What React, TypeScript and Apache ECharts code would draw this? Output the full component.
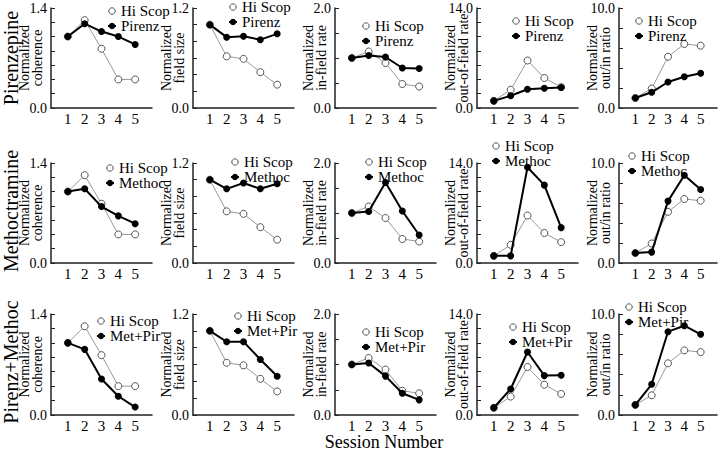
import React, { useEffect, useRef } from "react";
import * as echarts from "echarts";

const sessions = [1, 2, 3, 4, 5];
const sessionTicks = ["1", "2", "3", "4", "5"];

const rowLabels = ["Pirenzepine", "Methoctramine", "Pirenz+Methoc"];
const drugNames = ["Pirenz", "Methoc", "Met+Pir"];
const controlName = "Hi Scop";

const measureNames = [
  "Normalized\ncoherence",
  "Normalized\nfield size",
  "Normalized\nin-field rate",
  "Normalized\nout-of-field rate",
  "Normalized\nout/in ratio",
];
const measureMax = [1.4, 1.2, 2.0, 14.0, 10.0];
const measureInterval = [0.2, 0.2, 0.5, 2.0, 2.0];

// Hi Scop (control) values, same in every row
const hiScopCoherence = [1.0, 1.23, 0.83, 0.4, 0.4];
const hiScopFieldSize = [1.0, 0.62, 0.59, 0.43, 0.28];
const hiScopInField = [1.0, 1.13, 0.9, 0.48, 0.43];
const hiScopOutField = [1.0, 2.55, 6.65, 4.2, 2.92];
const hiScopOutIn = [1.0, 1.95, 5.12, 6.4, 6.23];

// Pirenzepine
const pirenzCoherence = [1.0, 1.18, 1.07, 1.0, 0.89];
const pirenzFieldSize = [1.0, 0.85, 0.86, 0.82, 0.89];
const pirenzInField = [1.0, 1.05, 1.02, 0.8, 0.79];
const pirenzOutField = [1.0, 1.71, 2.63, 2.77, 2.87];
const pirenzOutIn = [1.0, 1.57, 2.6, 3.13, 3.47];

// Methoctramine
const methocCoherence = [1.0, 1.04, 0.79, 0.66, 0.55];
const methocFieldSize = [1.0, 0.89, 0.96, 0.89, 0.95];
const methocInField = [1.0, 1.03, 1.61, 1.04, 0.56];
const methocOutField = [1.0, 1.0, 13.4, 10.9, 4.95];
const methocOutIn = [1.0, 1.09, 6.19, 8.77, 7.35];

// Met+Pir
const metPirCoherence = [1.0, 0.91, 0.5, 0.26, 0.11];
const metPirFieldSize = [1.0, 0.87, 0.87, 0.66, 0.46];
const metPirInField = [1.0, 1.03, 0.77, 0.43, 0.3];
const metPirOutField = [1.0, 3.6, 8.73, 5.46, 5.5];
const metPirOutIn = [1.0, 3.04, 8.25, 8.84, 7.99];

const hiScopRows = [hiScopCoherence, hiScopFieldSize, hiScopInField, hiScopOutField, hiScopOutIn];
const drugRows = [
  [pirenzCoherence, pirenzFieldSize, pirenzInField, pirenzOutField, pirenzOutIn],
  [methocCoherence, methocFieldSize, methocInField, methocOutField, methocOutIn],
  [metPirCoherence, metPirFieldSize, metPirInField, metPirOutField, metPirOutIn],
];

// layout
const colLeft = [51, 193, 335, 477, 619];
const gridWidth = 101;
const rowTop = [8, 163, 314];
const rowHeight = [100, 100, 101];
// legend marker centers [x, y] per row/col
const legendPos = [
  [[111, 10], [232, 6], [365, 25], [515, 20], [638, 20]],
  [[109, 167], [234, 161], [368, 161], [495, 145], [631, 155]],
  [[100, 320], [237, 315], [365, 331], [512, 326], [628, 306]],
];
const rowLabelY = [58, 211, 362];

const FONT = "'Liberation Serif', 'Times New Roman', serif";

export default function App() {
  const ref = useRef<HTMLDivElement>(null);
  useEffect(() => {
    if (!ref.current) return;
    const chart = echarts.init(ref.current, null, { renderer: "svg" });
    const grids: any[] = [];
    const xAxes: any[] = [];
    const yAxes: any[] = [];
    const series: any[] = [];
    const legends: any[] = [];
    for (let r = 0; r < 3; r++) {
      for (let c = 0; c < 5; c++) {
        const idx = r * 5 + c;
        grids.push({
          left: colLeft[c],
          top: rowTop[r],
          width: gridWidth,
          height: rowHeight[r],
          containLabel: false,
        });
        xAxes.push({
          type: "value",
          gridIndex: idx,
          min: 0,
          max: 6,
          interval: 1,
          axisLine: { show: true, lineStyle: { color: "#222", width: 1.5 } },
          axisTick: { show: false },
          splitLine: { show: false },
          axisLabel: {
            margin: 3,
            fontFamily: FONT,
            fontSize: 15,
            color: "#000",
            formatter: (v: number) => {
              const i = sessions.indexOf(v);
              return i >= 0 ? sessionTicks[i] : "";
            },
          },
        });
        const mx = measureMax[c];
        yAxes.push({
          type: "value",
          gridIndex: idx,
          min: 0,
          max: mx,
          interval: measureInterval[c],
          name: measureNames[c],
          nameLocation: "middle",
          nameRotate: 90,
          nameGap: 7,
          nameMoveOverlap: false,
          nameTextStyle: { fontFamily: FONT, fontSize: 14, lineHeight: 13, color: "#000" },
          axisLine: { show: true, lineStyle: { color: "#222", width: 1.5 } },
          axisTick: { show: true, inside: true, length: 4, lineStyle: { color: "#222" } },
          splitLine: { show: false },
          axisLabel: {
            margin: 4,
            fontFamily: FONT,
            fontSize: 14,
            color: "#000",
            showMinLabel: true,
            showMaxLabel: true,
            formatter: (v: number) =>
              Math.abs(v) < 1e-9 || Math.abs(v - mx) < 1e-6 ? v.toFixed(1) : "",
          },
        });
        series.push({
          type: "line",
          name: controlName,
          xAxisIndex: idx,
          yAxisIndex: idx,
          data: sessions.map((s, i) => [s, hiScopRows[c][i]]),
          symbol: "circle",
          symbolSize: 7,
          lineStyle: { color: "#999", width: 1 },
          itemStyle: { color: "#fff", borderColor: "#555", borderWidth: 1 },
          z: 2,
        });
        series.push({
          type: "line",
          name: drugNames[r],
          xAxisIndex: idx,
          yAxisIndex: idx,
          data: sessions.map((s, i) => [s, drugRows[r][c][i]]),
          symbol: "circle",
          symbolSize: 7,
          lineStyle: { color: "#000", width: 2 },
          itemStyle: { color: "#000" },
          z: 3,
        });
        const [lx, ly] = legendPos[r][c];
        legends.push({
          data: [
            {
              name: controlName,
              itemStyle: { color: "#fff", borderColor: "#555", borderWidth: 1 },
              lineStyle: { color: "#999", width: 1 },
            },
            { name: drugNames[r] },
          ],
          orient: "vertical",
          left: lx - 4,
          top: ly - 6.5,
          padding: 0,
          itemGap: 0,
          itemWidth: 8,
          itemHeight: 8,
          selectedMode: false,
          textStyle: { fontFamily: FONT, fontSize: 15, lineHeight: 13, color: "#000" },
        });
      }
    }
    const graphics: any[] = rowLabels.map((t, r) => ({
      type: "text",
      x: 11,
      y: rowLabelY[r],
      rotation: Math.PI / 2,
      style: {
        text: t,
        font: `20px ${FONT}`,
        fill: "#000",
        align: "center",
        verticalAlign: "middle",
      },
    }));
    graphics.push({
      type: "text",
      x: 384,
      y: 442,
      style: {
        text: "Session Number",
        font: `18px ${FONT}`,
        fill: "#000",
        align: "center",
        verticalAlign: "middle",
      },
    });
    chart.setOption({
      animation: false,
      backgroundColor: "#fff",
      grid: grids,
      xAxis: xAxes,
      yAxis: yAxes,
      legend: legends,
      series,
      graphic: graphics,
    });
    return () => chart.dispose();
  }, []);
  return (
    <div
      ref={ref}
      style={{ position: "absolute", left: 0, top: 0, width: 720, height: 452 }}
    />
  );
}
